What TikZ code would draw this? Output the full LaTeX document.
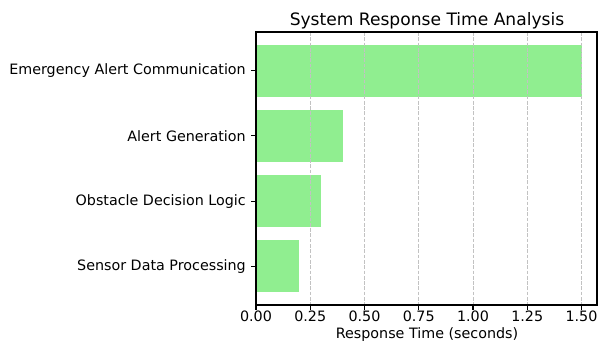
\documentclass[tikz,border=0pt]{standalone}
\usepackage{fontspec}
\setmainfont{DejaVu Sans}
\definecolor{barfill}{HTML}{90EE90}
\definecolor{gridc}{HTML}{C2C2C2}
\begin{document}
\begin{tikzpicture}[x=1pt,y=-1pt,
  bar/.style={fill=barfill,draw=none},
  gridline/.style={draw=gridc,line width=0.8pt,dash pattern=on 3.7pt off 1.6pt},
  spine/.style={draw=black,line width=1.1pt},
  tick/.style={draw=black,line width=1.1pt},
  ticklab/.style={font=\fontsize{14.3}{16}\selectfont,inner sep=0pt},
  titlelab/.style={font=\fontsize{17.1}{19}\selectfont,inner sep=0pt,anchor=base}]
\useasboundingbox (0,0) rectangle (598,345);
% bars
\def\xz{256}\def\xs{217}
\foreach \v/\i/\nm in {0.2/0/b0,0.3/1/b1,0.4/2/b2,1.5/3/b3}{
  \pgfmathsetmacro{\yc}{305-(\i+0.59)*65.3}
  \fill[bar] (\xz,\yc-26) rectangle (\xz+\v*\xs,\yc+26);
}
% grid
\foreach \t/\lab in {0/0.00,0.25/0.25,0.5/0.50,0.75/0.75,1/1.00,1.25/1.25,1.5/1.50}{
  \pgfmathsetmacro{\xx}{\xz+\t*\xs}
  \draw[gridline] (\xx,32) -- (\xx,305);
  \draw[tick] (\xx,305) -- (\xx,310);
  \node[ticklab,anchor=base] (xt\t) at (\xx,321.5) {\lab};
}
% y ticks and labels
\foreach \i/\lab in {0/Sensor Data Processing,1/Obstacle Decision Logic,2/Alert Generation,3/Emergency Alert Communication}{
  \pgfmathsetmacro{\yc}{305-(\i+0.59)*65.3}
  \draw[tick] (256,\yc) -- (251,\yc);
  \node[ticklab,anchor=east] (yt\i) at (246,\yc) {\lab};
}
% spines
\draw[spine] (256,32) rectangle (597,305);
% title and axis label
\node[titlelab] (title) at (427,26) {System Response Time Analysis};
\node[ticklab,anchor=base] (xlabel) at (427,338) {Response Time (seconds)};
\end{tikzpicture}
\end{document}
